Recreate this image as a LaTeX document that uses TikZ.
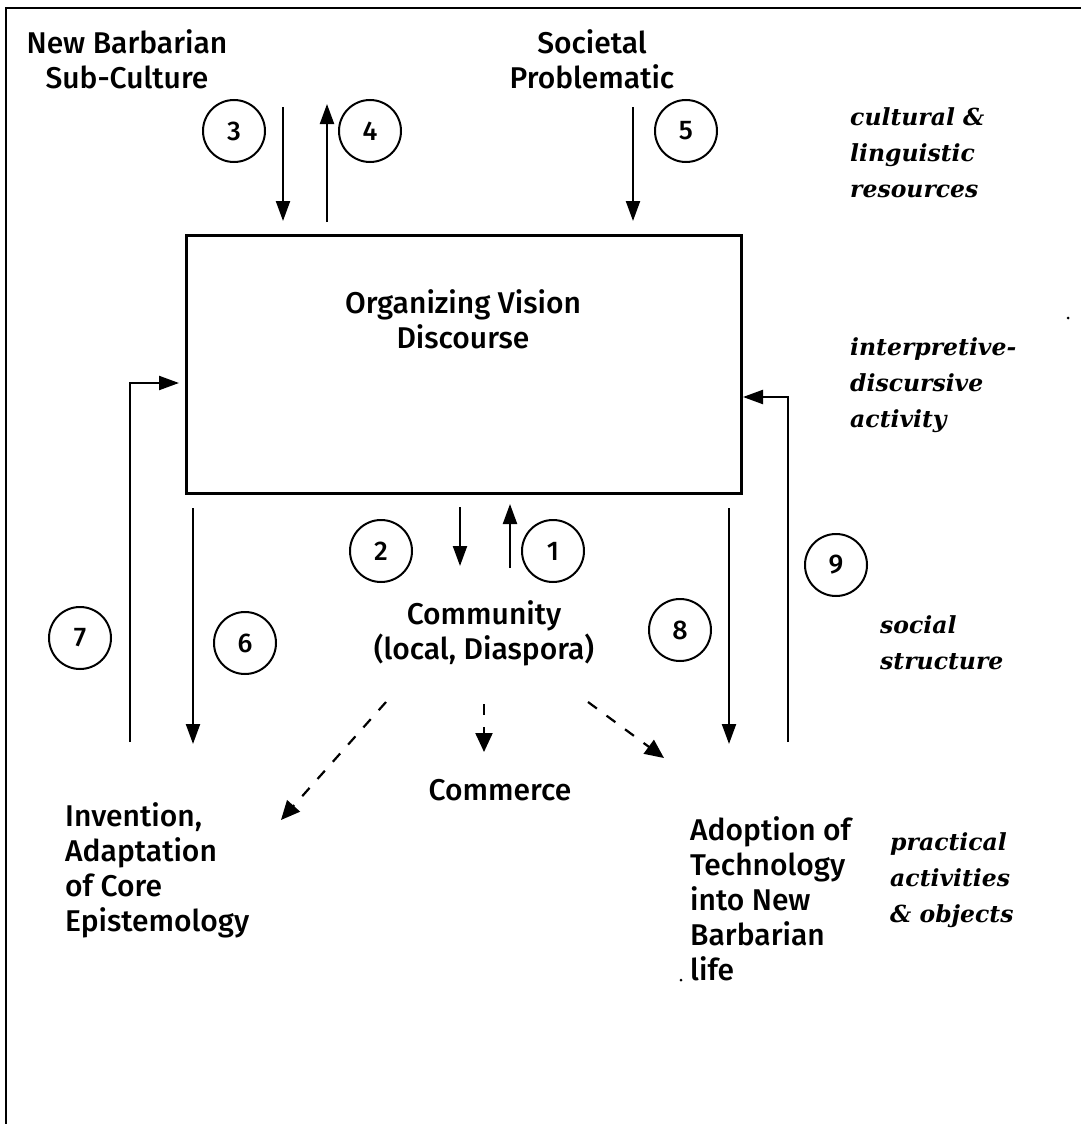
\documentclass[tikz,border=0pt]{standalone}
\usepackage{fontspec}
\setmainfont{Fira Sans Medium}
\newfontfamily\notefont{DejaVu Serif}
\usetikzlibrary{arrows.meta}

\begin{document}
\begin{tikzpicture}[x=1pt,y=-1pt,
  flow/.style={line width=2.2pt,-{Triangle[width=14pt,length=20pt]}},
  link/.style={line width=2.2pt,dash pattern=on 11pt off 12pt,-{Triangle[width=17pt,length=19pt]}},
  num/.style={circle,draw,line width=2pt,minimum size=62pt,inner sep=0pt,
    font=\fontsize{27}{27}\selectfont},
  lbl/.style={font=\fontsize{30}{35}\selectfont,align=center,inner sep=0pt},
  lbll/.style={font=\fontsize{30}{35}\selectfont,align=left,inner sep=0pt,anchor=north west},
  note/.style={font=\notefont\bfseries\itshape\fontsize{23.5}{36}\selectfont,align=left,
    inner sep=0pt,anchor=north west},
  speck/.style={fill=black,circle,inner sep=0pt,minimum size=3pt}
]
\useasboundingbox (0,0) rectangle (1081,1124);
\fill[white] (0,0) rectangle (1081,1124);

% frame
\draw[line width=2pt] (6,1124) -- (6,8) -- (1081,8);

% sources at the top
\node[lbl,anchor=north] (nb) at (127,29) {New Barbarian\\Sub-Culture};
\node[lbl,anchor=north] (sp) at (592,29) {Societal\\Problematic};

% central discourse box
\node[draw,line width=3pt,minimum width=555pt,minimum height=258pt,inner sep=0pt]
  (ovd) at (463.5,364) {};
\node[lbl] (ovdt) at (463,319) {Organizing Vision\\Discourse};

% community and outcomes
\node[lbl] (comm) at (484,633) {Community\\(local, Diaspora)};
\node[lbl] (comt) at (500,790) {Commerce};
\node[lbll] (inv) at (65,802) {Invention,\\Adaptation\\of Core\\Epistemology};
\node[lbll] (adop) at (690,816) {Adoption of\\Technology\\into New\\Barbarian\\life};

% level labels on the right
\node[note] (n1) at (850,107) {cultural \&\\linguistic\\resources};
\node[note] (n2) at (850,337) {interpretive-\\discursive\\activity};
\node[note] (n3) at (880,615) {social\\structure};
\node[note] (n4) at (890,832) {practical\\activities\\\& objects};

% numbered markers
\node[num] (c3) at (234,131) {3};
\node[num] (c4) at (370,131) {4};
\node[num] (c5) at (686,131) {5};
\node[num] (c2) at (381,551) {2};
\node[num] (c1) at (553,551) {1};
\node[num] (c7) at (80,638) {7};
\node[num] (c6) at (245,643) {6};
\node[num] (c8) at (680,630) {8};
\node[num] (c9) at (836,565) {9};

% free ends of the connectors
\coordinate (a3s) at (283,107);
\coordinate (a3e) at (283,221);
\coordinate (a4s) at (327,222);
\coordinate (a4e) at (327,104);
\coordinate (a5s) at (633,107);
\coordinate (a5e) at (633,221);
\coordinate (a2s) at (460,507);
\coordinate (a2e) at (460,566);
\coordinate (a1s) at (510,568);
\coordinate (a1e) at (510,504);
\coordinate (a6s) at (193,508);
\coordinate (a6e) at (193,744);
\coordinate (a8s) at (729,508);
\coordinate (a8e) at (729,744);
\coordinate (a7s) at (130,742);
\coordinate (a9s) at (788,742);
\coordinate (a7e) at (179,383);
\coordinate (a9e) at (743,397);

% flows between the box and its surroundings
\draw[flow] (a3s) -- (a3e);
\draw[flow] (a4s) -- (a4e);
\draw[flow] (a5s) -- (a5e);
\draw[flow] (a2s) -- (a2e);
\draw[flow] (a1s) -- (a1e);
\draw[flow] (a6s) -- (a6e);
\draw[flow] (a8s) -- (a8e);
\draw[flow] (a7s) |- (a7e);
\draw[flow] (a9s) |- (a9e);

% loose links from the community
\coordinate (l1s) at (386,702);
\coordinate (l2s) at (484,704);
\coordinate (l3s) at (588,702);
\draw[link] (l1s) -- (281,820);
\draw[link] (l2s) -- (484,752);
\draw[link] (l3s) -- (664,758);

% specks
\node[speck] (sp1) at (1068,318) {};
\node[speck] (sp2) at (681,980) {};
\end{tikzpicture}
\end{document}
